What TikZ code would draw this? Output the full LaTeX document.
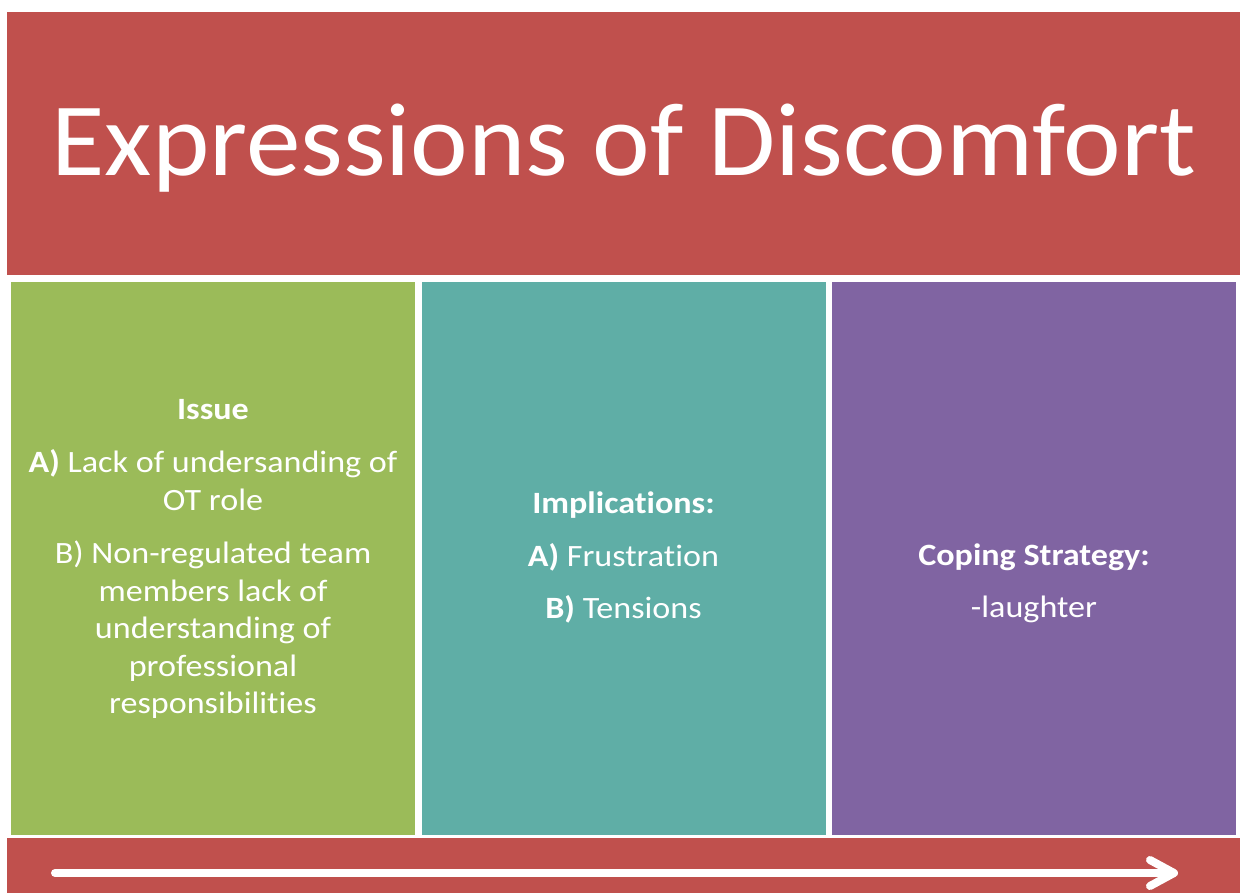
\documentclass[tikz,border=0pt]{standalone}
\usepackage{fontspec}
\setmainfont{Carlito}[Ligatures=NoCommon]
\newfontfamily\titlefont{Carlito}[Ligatures=NoCommon, FakeStretch=1.05]
\newfontfamily\panelfont{Carlito}[Ligatures=NoCommon, FakeStretch=1.1]
\usepackage{tikz}
\usetikzlibrary{arrows.meta}
\definecolor{bannerred}{HTML}{C0504D}
\definecolor{issuegreen}{HTML}{9BBB59}
\definecolor{impteal}{HTML}{5FAEA6}
\definecolor{copepurple}{HTML}{8064A2}

\begin{document}
\begin{tikzpicture}[x=1pt,y=-1pt,
    panel/.style={draw=white, line width=1pt, inner sep=0pt, minimum width=405pt, minimum height=554pt},
    paneltext/.style={text=white, align=center, anchor=base, font=\panelfont\fontsize{31}{37.5}\selectfont, inner sep=0pt}]
  \useasboundingbox (0,0) rectangle (1244,893);
  \fill[bannerred] (7,12) rectangle (1240,275);
  \node[text=white, font=\titlefont\fontsize{104}{110}\selectfont, anchor=base] (title) at (624,176) {Expressions of Discomfort};
  \node[panel, fill=issuegreen] (issue) at (212.5,558) {};
  \node[panel, fill=impteal] (impl) at (623.5,558) {};
  \node[panel, fill=copepurple] (coping) at (1034,558) {};
  % column texts (base = last line)
  \node[paneltext] (issuetxt) at (213,713.5) {\textbf{Issue}\\[16pt]
    \textbf{A)} Lack of undersanding of\\ OT role\\[16pt]
    B) Non-regulated team\\ members lack of\\ understanding of\\ professional\\ responsibilities};
  \node[paneltext] (impltxt) at (623.5,618) {\textbf{Implications:}\\[16pt]
    \textbf{A)} Frustration\\[14pt] \textbf{B)} Tensions};
  \node[paneltext] (copetxt) at (1034,617) {\textbf{Coping Strategy:}\\[14pt] -laughter};
  \fill[bannerred] (7,838) rectangle (1240,893);
  \coordinate (arrowstart) at (55,873);
  \coordinate (arrowend) at (1178,873);
  \draw[white, line width=8pt, line cap=round, -{Straight Barb[length=24pt, width=26pt, line cap=round, line join=round]}] (arrowstart) -- (arrowend);
\end{tikzpicture}
\end{document}
